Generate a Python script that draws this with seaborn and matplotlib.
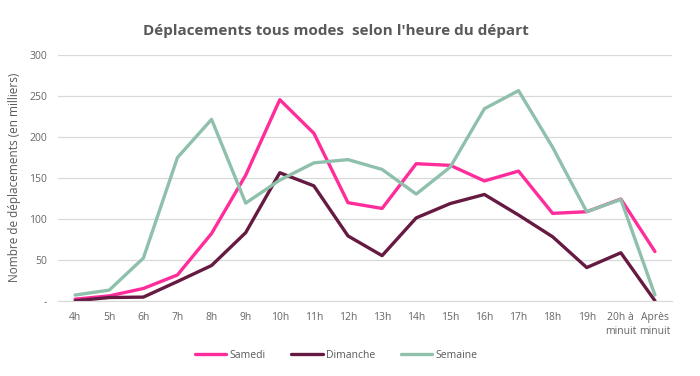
import pandas as pd
import matplotlib.pyplot as plt
import seaborn as sns

heures = ['4h', '5h', '6h', '7h', '8h', '9h', '10h', '11h', '12h', '13h', '14h', '15h',
          '16h', '17h', '18h', '19h', '20h à\nminuit', 'Après\nminuit']

samedi = [2, 6, 15, 31.5, 82, 153, 245, 204, 119.5, 112.5, 167, 165, 146, 158, 106.5, 108.5, 124, 60]
dimanche = [0, 4, 4.5, 23.5, 43, 83, 156, 140, 79, 55, 101, 118.5, 129.5, 104.5, 78, 40.5, 58.5, 0]
semaine = [7, 13, 52, 174.5, 221, 119, 147, 168, 172, 160, 130, 163, 234, 256, 187, 108.5, 123.5, 7]

series = ['Samedi', 'Dimanche', 'Semaine']
couleurs = ['#ff2d9b', '#661a42', '#8fc0ab']

# tableau long pour seaborn
df = pd.DataFrame({
    'pos': list(range(len(heures))) * 3,
    'valeur': samedi + dimanche + semaine,
    'jour': [s for s in series for _ in heures],
})

sns.set_style('white')
plt.rcParams['font.family'] = ['Open Sans', 'DejaVu Sans']

fig = plt.figure(figsize=(7, 3.76), dpi=100)
ax = fig.add_axes([0.083, 0.2, 0.877, 0.655])

sns.lineplot(data=df, x='pos', y='valeur', hue='jour', palette=couleurs,
             hue_order=series, linewidth=2.4, ax=ax, legend=False)

ax.set_xlim(-0.5, len(heures) - 0.5)
ax.set_ylim(0, 300)
ax.set_yticks([0, 50, 100, 150, 200, 250, 300])
ax.set_yticklabels(['-', '50', '100', '150', '200', '250', '300'])
ax.set_xticks(range(len(heures)))
ax.set_xticklabels(heures, linespacing=1.4)
ax.tick_params(axis='both', labelsize=7.5, colors='#666666', length=0, pad=8)
ax.grid(True, axis='y', color='#d9d9d9', linewidth=0.9)
ax.set_axisbelow(True)
for s in ['top', 'right', 'left']:
    ax.spines[s].set_visible(False)
ax.spines['bottom'].set_color('#d9d9d9')
ax.set_xlabel('')
ax.set_ylabel('Nombre de déplacements (en milliers)', fontsize=8.5, color='#595959', labelpad=6)

fig.suptitle("Déplacements tous modes  selon l'heure du départ", x=0.48, y=0.935,
             fontsize=11, fontweight='bold', color='#595959')

handles = [plt.Line2D([], [], color=c, linewidth=2.4) for c in couleurs]
fig.legend(handles, series, loc='center', bbox_to_anchor=(0.48, 0.055), ncol=3,
           frameon=False, fontsize=7.5, handlelength=3, handletextpad=0.3,
           columnspacing=2.5, labelcolor='#595959')

plt.savefig('out.png', dpi=100)
